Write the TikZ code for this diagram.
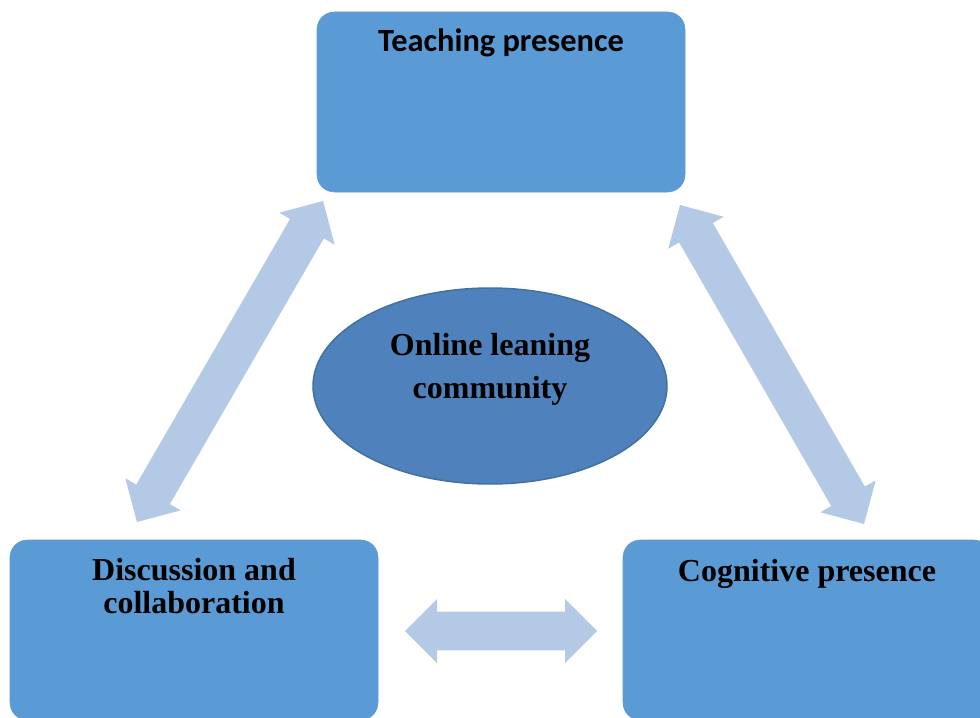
\documentclass[tikz,border=0pt]{standalone}
\usepackage{fontspec}
\setmainfont{Liberation Serif}
\newfontfamily\calibrifont{Carlito}
\usetikzlibrary{shapes.geometric, calc, positioning}

\definecolor{boxblue}{HTML}{5B9BD5}
\definecolor{ovalblue}{HTML}{4F81BD}
\definecolor{ovaledge}{HTML}{41719C}
\definecolor{arrowblue}{HTML}{B4C9E6}

\tikzset{
  presence/.style={draw=boxblue, fill=boxblue, rounded corners=13pt, minimum width=276pt, minimum height=135pt, inner sep=0pt},
  community/.style={ellipse, draw=ovaledge, line width=1.1pt, fill=ovalblue, minimum width=265.5pt, minimum height=147pt, inner sep=0pt},
  boldtitle/.style={font=\fontsize{24}{24.75}\selectfont\bfseries, align=center, inner sep=0pt},
  sanstitle/.style={font=\calibrifont\fontsize{24.3}{26}\selectfont\bfseries, inner sep=0pt},
  flow/.style={fill=arrowblue}
}

\begin{document}
\begin{tikzpicture}[x=0.75pt,y=-0.75pt]
\useasboundingbox (0,0) rectangle (980,717);

% the three boxes
\node[presence] (teach) at (501,102) {};
\node[presence] (discuss) at (194,630) {};
\node[presence] (cognit) at (807,630) {};
% the oval in the middle
\node[community] (olc) at (490,386) {};

% titles
\node[sanstitle, anchor=base] (teachtxt) at (501,52) {Teaching presence};
\node[boldtitle, anchor=base] (cogtxt) at (807,581) {Cognitive presence};
\node[boldtitle, anchor=north] (distxt) at (194,558) {Discussion and\\collaboration};
\node[boldtitle, anchor=north, font=\fontsize{24}{32}\selectfont\bfseries] (olctxt) at (490,333) {Online leaning\\community};

% ends of the block arrows
\coordinate (lt) at (323,201);
\coordinate (lb) at (137,522);
\coordinate (rt) at (680,205);
\coordinate (rb) at (864,524);
\coordinate (hl) at (405,631);
\coordinate (hr) at (597,631);

\foreach \a/\b in {lt/lb, rt/rb, hl/hr}{
  \coordinate (p) at ($(\a)!24pt!(\b)$);
  \coordinate (q) at ($(\b)!24pt!(\a)$);
  \fill[flow] (\a) -- ($(p)!24pt!90:(\b)$) -- ($(p)!14.6pt!90:(\b)$)
    -- ($(q)!14.6pt!-90:(\a)$) -- ($(q)!24pt!-90:(\a)$) -- (\b)
    -- ($(q)!24pt!90:(\a)$) -- ($(q)!14.6pt!90:(\a)$)
    -- ($(p)!14.6pt!-90:(\b)$) -- ($(p)!24pt!-90:(\b)$) -- cycle;
}

\end{tikzpicture}
\end{document}
